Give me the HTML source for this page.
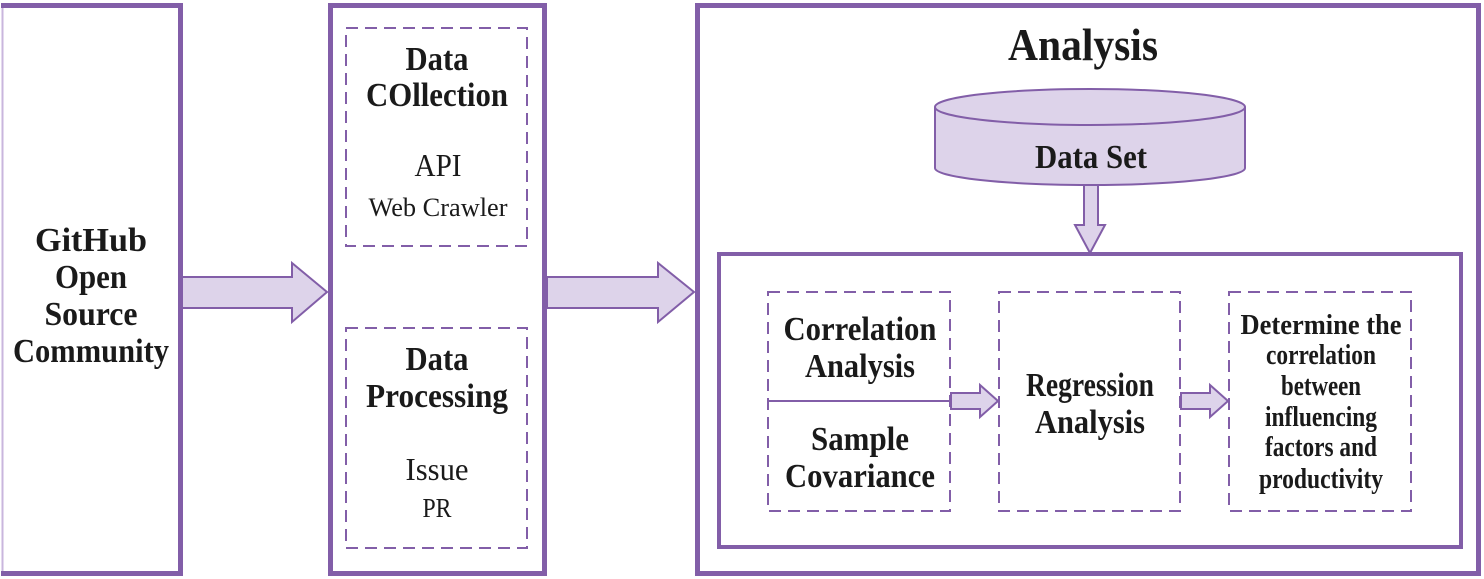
<!DOCTYPE html>
<html><head><meta charset="utf-8"><style>html,body{margin:0;padding:0;background:#fff}svg{display:block}</style></head>
<body>
<svg width="1484" height="579" viewBox="0 0 1484 579" xmlns="http://www.w3.org/2000/svg">
<g fill="none" stroke="#825ea8">
<line x1="2.5" y1="4" x2="2.5" y2="576" stroke="#c9b6dd" stroke-width="2"/>
<path d="M1 5.5 H180.5 V573.5 H1" stroke-width="5"/>
<rect x="330.5" y="5.5" width="214" height="568" stroke-width="5"/>
<rect x="697.5" y="5.5" width="781" height="568" stroke-width="5"/>
<rect x="719" y="254" width="742" height="293" stroke-width="4"/>
<g stroke-width="2" stroke-dasharray="12,7">
<rect x="346" y="28" width="181" height="218"/>
<rect x="346" y="328" width="181" height="220"/>
<rect x="768" y="292" width="182" height="219"/>
<rect x="999" y="292" width="181" height="219"/>
<rect x="1229" y="292" width="182" height="219"/>
</g>
<line x1="768" y1="401" x2="950" y2="401" stroke-width="2"/>
</g>
<g fill="#ddd3ea" stroke="#825ea8" stroke-width="2">
<polygon points="182,277 292,277 292,263 327,292 292,322 292,308 182,308"/>
<polygon points="547,277 658,277 658,263 694,292 658,322 658,308 547,308"/>
<polygon points="951,393 980,393 980,385 998,401 980,417 980,409 951,409"/>
<polygon points="1181,393 1210,393 1210,385 1228,401 1210,417 1210,409 1181,409"/>
<polygon points="1084,185 1098,185 1098,225 1105,225 1090,253 1075,225 1084,225"/>
<path d="M935 107 V168 A155 17 0 0 0 1245 168 V107"/>
<ellipse cx="1090" cy="107" rx="155" ry="18"/>
</g>
<g font-family="Liberation Serif, serif" fill="#1a1a1a" text-anchor="middle" font-weight="bold">
<g font-size="34">
<text x="91" y="251" textLength="112" lengthAdjust="spacingAndGlyphs">GitHub</text>
<text x="91" y="288" textLength="72" lengthAdjust="spacingAndGlyphs">Open</text>
<text x="91" y="325" textLength="93" lengthAdjust="spacingAndGlyphs">Source</text>
<text x="91" y="362" textLength="156" lengthAdjust="spacingAndGlyphs">Community</text>
<text x="437" y="70" textLength="63" lengthAdjust="spacingAndGlyphs">Data</text>
<text x="437" y="106" textLength="142" lengthAdjust="spacingAndGlyphs">COllection</text>
<text x="437" y="370" textLength="63" lengthAdjust="spacingAndGlyphs">Data</text>
<text x="437" y="407" textLength="142" lengthAdjust="spacingAndGlyphs">Processing</text>
<text x="860" y="340" textLength="153" lengthAdjust="spacingAndGlyphs">Correlation</text>
<text x="860" y="377" textLength="110" lengthAdjust="spacingAndGlyphs">Analysis</text>
<text x="860" y="450" textLength="98" lengthAdjust="spacingAndGlyphs">Sample</text>
<text x="860" y="487" textLength="150" lengthAdjust="spacingAndGlyphs">Covariance</text>
<text x="1090" y="396" textLength="128" lengthAdjust="spacingAndGlyphs">Regression</text>
<text x="1090" y="433" textLength="110" lengthAdjust="spacingAndGlyphs">Analysis</text>
<text x="1091" y="168" textLength="112" lengthAdjust="spacingAndGlyphs">Data Set</text>
</g>
<text x="1083" y="60" font-size="46" textLength="150" lengthAdjust="spacingAndGlyphs">Analysis</text>
<g font-size="28">
<text x="1321" y="334" textLength="161" lengthAdjust="spacingAndGlyphs">Determine the</text>
<text x="1321" y="364" textLength="110" lengthAdjust="spacingAndGlyphs">correlation</text>
<text x="1321" y="395" textLength="80" lengthAdjust="spacingAndGlyphs">between</text>
<text x="1321" y="426" textLength="112" lengthAdjust="spacingAndGlyphs">influencing</text>
<text x="1321" y="456" textLength="112" lengthAdjust="spacingAndGlyphs">factors and</text>
<text x="1321" y="488" textLength="124" lengthAdjust="spacingAndGlyphs">productivity</text>
</g>
</g>
<g font-family="Liberation Serif, serif" fill="#1a1a1a" text-anchor="middle">
<text x="438" y="176" font-size="32" textLength="47" lengthAdjust="spacingAndGlyphs">API</text>
<text x="438" y="216" font-size="26" textLength="139" lengthAdjust="spacingAndGlyphs">Web Crawler</text>
<text x="437" y="480" font-size="32" textLength="63" lengthAdjust="spacingAndGlyphs">Issue</text>
<text x="437" y="517" font-size="27" textLength="29" lengthAdjust="spacingAndGlyphs">PR</text>
</g>
</svg>
</body></html>
